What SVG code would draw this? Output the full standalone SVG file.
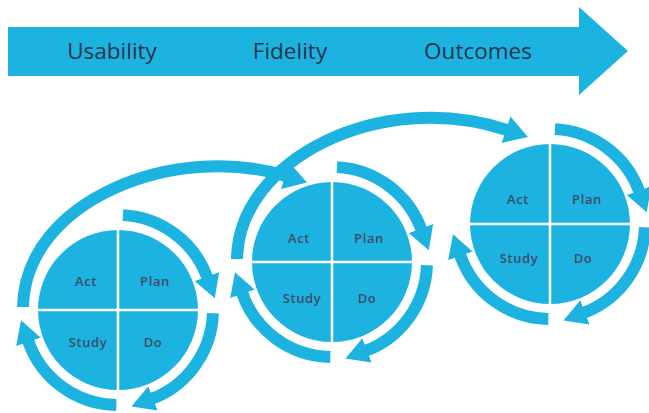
<svg xmlns="http://www.w3.org/2000/svg" width="649" height="413" viewBox="0 0 649 413">
  <style>
    .band { fill: #1cb3e0; }
    .pie { fill: #1cb3e0; }
    .div { stroke: #ffffff; stroke-width: 2.5; fill: none; }
    .ring { fill: none; stroke: #1cb3e0; stroke-width: 12; }
    .big { fill: none; stroke: #1cb3e0; stroke-width: 12; }
    .head { fill: #1cb3e0; }
    .ttl { font-family: "Open Sans", "Liberation Sans", sans-serif; font-size: 22.5px; fill: #27334f; text-anchor: middle; }
    .lbl { font-family: "Open Sans", "Liberation Sans", Arial, sans-serif; font-size: 13px; font-weight: 600; letter-spacing: 0.6px; fill: #3f4b68; text-anchor: middle; }
  </style>
  <defs>
    <marker id="ah" markerUnits="userSpaceOnUse" markerWidth="28" markerHeight="30" viewBox="0 -15 28 30" refX="1" refY="0" orient="auto">
      <path class="head" d="M0,-13 L23,0 L0,13 Z"/>
    </marker>
    <marker id="ah2" markerUnits="userSpaceOnUse" markerWidth="28" markerHeight="32" viewBox="0 -16 28 32" refX="1" refY="0" orient="auto">
      <path class="head" d="M0,-14 L23,0 L0,14 Z"/>
    </marker>
  </defs>

  <rect width="649" height="413" fill="#ffffff"/>

  <g id="banner">
    <polygon class="band" points="8,27 579,27 579,7 628,51 579,95 579,76 8,76"/>
    <text class="ttl" x="112" y="59">Usability</text>
    <text class="ttl" x="290" y="59">Fidelity</text>
    <text class="ttl" x="478" y="59">Outcomes</text>
  </g>

  <g id="connectors">
    <!-- cycle 1 ring -->
    <path class="ring" marker-end="url(#ah)" d="M122.97,215.13 A95,95 0 0 1 207.27,277.51"/>
    <path class="ring" marker-end="url(#ah)" d="M212.94,313.32 A95,95 0 0 1 152.05,398.69"/>
    <path class="ring" marker-end="url(#ah)" d="M116.34,404.99 A95,95 0 0 1 28.18,340.93"/>
    <!-- cycle 2 ring -->
    <path class="ring" marker-end="url(#ah)" d="M336.97,167.13 A95,95 0 0 1 421.27,229.51"/>
    <path class="ring" marker-end="url(#ah)" d="M426.94,265.32 A95,95 0 0 1 366.05,350.69"/>
    <path class="ring" marker-end="url(#ah)" d="M330.34,356.99 A95,95 0 0 1 242.18,292.93"/>
    <!-- cycle 3 ring -->
    <path class="ring" marker-end="url(#ah)" d="M554.97,129.13 A95,95 0 0 1 639.27,191.51"/>
    <path class="ring" marker-end="url(#ah)" d="M644.94,227.32 A95,95 0 0 1 584.05,312.69"/>
    <path class="ring" marker-end="url(#ah)" d="M548.34,318.99 A95,95 0 0 1 460.18,254.93"/>
    <!-- links between cycles -->
    <path class="big" marker-end="url(#ah2)" d="M237,259 C238,160 380,88 507,130"/>
    <path class="big" marker-end="url(#ah2)" d="M23,307 C25,200 175,142 286,176"/>
  </g>

  <g id="cycle-1">
    <circle class="pie" cx="118" cy="310" r="80"/>
    <path class="div" d="M118,230 V390 M38,310 H198"/>
    <text class="lbl" x="86" y="286">Act</text>
    <text class="lbl" x="155" y="286">Plan</text>
    <text class="lbl" x="88" y="347">Study</text>
    <text class="lbl" x="153" y="347">Do</text>
  </g>

  <g id="cycle-2">
    <circle class="pie" cx="332" cy="262" r="80"/>
    <path class="div" d="M332,182 V342 M252,262 H412"/>
    <text class="lbl" x="299" y="243">Act</text>
    <text class="lbl" x="369" y="243">Plan</text>
    <text class="lbl" x="302" y="303">Study</text>
    <text class="lbl" x="367" y="303">Do</text>
  </g>

  <g id="cycle-3">
    <circle class="pie" cx="550" cy="224" r="80"/>
    <path class="div" d="M550,144 V304 M470,224 H630"/>
    <text class="lbl" x="518" y="204">Act</text>
    <text class="lbl" x="587" y="204">Plan</text>
    <text class="lbl" x="519" y="263">Study</text>
    <text class="lbl" x="583" y="263">Do</text>
  </g>
</svg>
